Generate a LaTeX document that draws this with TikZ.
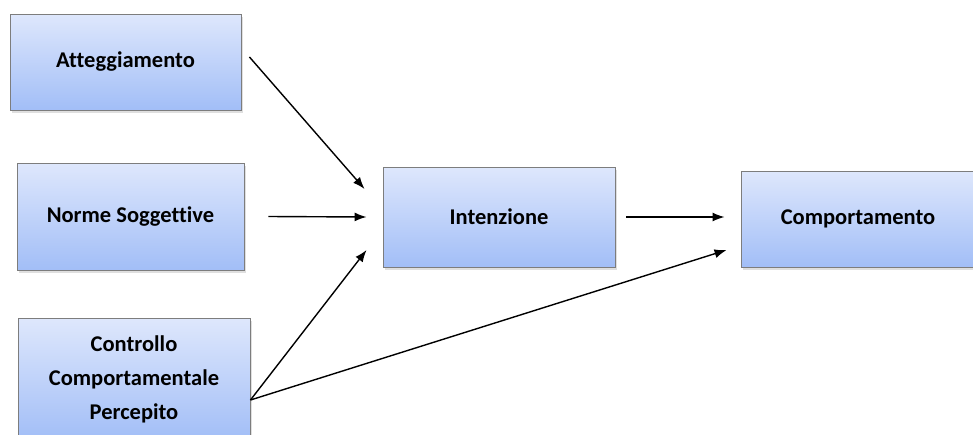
\documentclass[tikz,border=0pt]{standalone}
\usepackage{fontspec}
\setmainfont[Ligatures={NoCommon}]{Carlito}
\usepackage{tikz}
\usetikzlibrary{positioning, calc, arrows.meta, shadows}

\definecolor{boxtop}{RGB}{222,231,252}
\definecolor{boxbottom}{RGB}{162,190,247}
\definecolor{boxline}{RGB}{125,125,125}

\begin{document}
\begin{tikzpicture}[x=1pt, y=-1pt]
		\tikzstyle{factor}=[draw=boxline, line width=0.9pt, top color=boxtop, bottom color=boxbottom, inner sep=0pt, align=center, font=\fontsize{22.5}{34}\selectfont\bfseries, drop shadow={shadow xshift=2pt, shadow yshift=-3pt, opacity=0.25}]
		\tikzstyle{link}=[-{Latex[length=12pt, width=9pt]}, line width=1.4pt, black]

		\clip (0,0) rectangle (973,434);
		\fill[white] (0,0) rectangle (973,434);

		\node (att) at (125.5,62) [factor, minimum width=231pt, minimum height=96pt] {Atteggiamento};
		\node (nor) at (130.5,216.5) [factor, minimum width=227pt, minimum height=107pt] {Norme Soggettive};
		\node (ctl) at (134,379) [factor, minimum width=232pt, minimum height=122pt] {Controllo\\Comportamentale\\Percepito};
		\node (int) at (499,217) [factor, minimum width=232pt, minimum height=100pt] {Intenzione};
		\node (cmp) at (858,219) [factor, minimum width=234pt, minimum height=96pt] {Comportamento};

		\draw [link] ([xshift=8pt, yshift=5pt]att.east) -- ([xshift=-18pt, yshift=28pt]int.west);
		\draw [link] ([xshift=24pt]nor.east) -- ([xshift=-16pt]int.west);
		\draw [link] ([yshift=-21pt]ctl.east) -- ([xshift=-16pt, yshift=-33pt]int.west);
		\draw [link] ([yshift=-21pt]ctl.east) -- ([xshift=-14pt, yshift=-31pt]cmp.west);
		\draw [link] ([xshift=11pt]int.east) -- ([xshift=-16pt, yshift=2pt]cmp.west);
\end{tikzpicture}
\end{document}
